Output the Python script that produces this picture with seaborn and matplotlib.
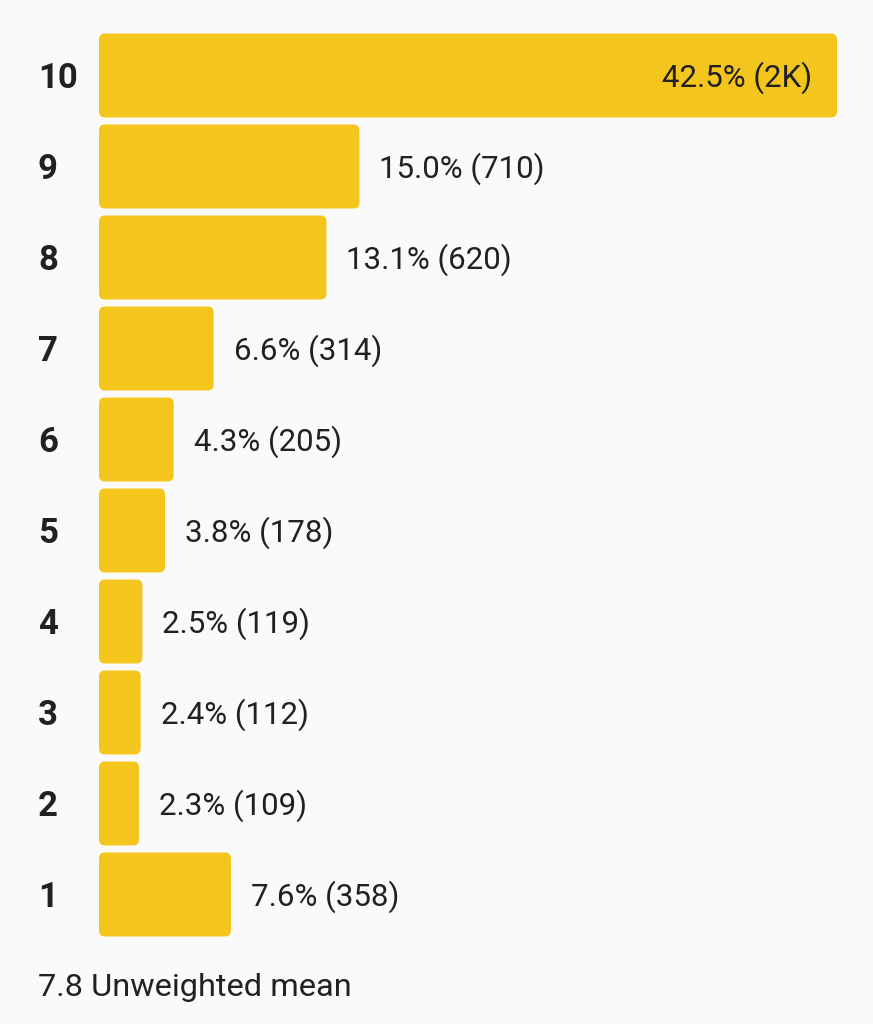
import matplotlib
matplotlib.use("Agg")
import matplotlib.pyplot as plt
from matplotlib.patches import FancyBboxPatch
import pandas as pd
import seaborn as sns

# data
scores = ["10", "9", "8", "7", "6", "5", "4", "3", "2", "1"]
percent = [42.5, 15.0, 13.1, 6.6, 4.3, 3.8, 2.5, 2.4, 2.3, 7.6]
counts = ["2K", "710", "620", "314", "205", "178", "119", "112", "109", "358"]
mean_label = "7.8 Unweighted mean"

df = pd.DataFrame({"score": scores, "percent": percent, "count": counts})

sns.set_theme(style="white")
plt.rcParams["font.family"] = ["Roboto", "DejaVu Sans"]

bg = "#fafafa"
bar_color = "#f4c51c"
text_color = "#212121"

W, H = 873, 1024
fig = plt.figure(figsize=(W / 100, H / 100), dpi=100, facecolor=bg)
ax = fig.add_axes([99 / W, 1 - 940 / H, (837 - 99) / W, 910 / H])
ax.set_facecolor(bg)

sns.barplot(data=df, x="percent", y="score", order=scores, color=bar_color,
            saturation=1, width=0.923, ax=ax)
ax.set_xlim(0, 42.5)
ax.set_ylim(9.5, -0.5)

# swap plain bars for rounded ones, same geometry
px_x = ax.get_position().width * W / 42.5   # px per % unit
px_y = ax.get_position().height * H / 10    # px per category
radius_px = 6
for p in list(ax.patches):
    x0, y0 = p.get_x(), p.get_y()
    w, h = p.get_width(), p.get_height()
    p.remove()
    fb = FancyBboxPatch((x0, y0), w, h,
                        boxstyle=f"round,pad=0,rounding_size={radius_px / px_x}",
                        mutation_aspect=px_x / px_y,
                        facecolor=bar_color, edgecolor="none")
    ax.add_patch(fb)

for i, (pct, cnt) in enumerate(zip(percent, counts)):
    label = f"{pct:.1f}% ({cnt})"
    if pct > 30:
        ax.annotate(label, (pct, i), xytext=(-25, -2), textcoords="offset pixels",
                    ha="right", va="center", fontsize=22.5, color=text_color)
    else:
        ax.annotate(label, (pct, i), xytext=(20, -2), textcoords="offset pixels",
                    ha="left", va="center", fontsize=22.5, color=text_color)

ax.set_xlabel("")
ax.set_ylabel("")
ax.set_xticks([])
ax.tick_params(axis="y", length=0, pad=44)
for t in ax.get_yticklabels():
    t.set_ha("left")
    t.set_fontweight("bold")
    t.set_fontsize(25)
    t.set_color(text_color)
sns.despine(ax=ax, left=True, bottom=True)

fig.text(38 / W, 1 - 988 / H, mean_label, ha="left", va="center",
         fontsize=23.4, color=text_color)

fig.savefig("out.png", dpi=100, facecolor=bg)
